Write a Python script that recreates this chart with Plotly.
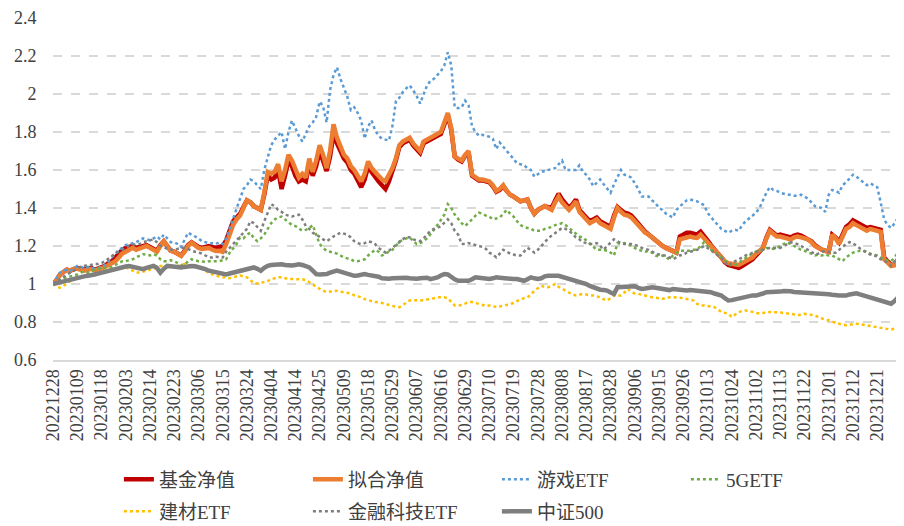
import pandas as pd
import plotly.graph_objects as go

# ---------------- data ----------------
holidays = ["2023-01-02", "2023-01-23", "2023-01-24", "2023-01-25", "2023-01-26", "2023-01-27",
            "2023-04-05", "2023-05-01", "2023-05-02", "2023-05-03", "2023-06-22", "2023-06-23",
            "2023-09-29", "2023-10-02", "2023-10-03", "2023-10-04", "2023-10-05", "2023-10-06"]
days = pd.bdate_range("2022-12-28", "2023-12-29")
dates = [d.strftime("%Y%m%d") for d in days if d.strftime("%Y-%m-%d") not in holidays]

tick_labels = ["20221228", "20230109", "20230118", "20230203", "20230214", "20230223", "20230306",
               "20230315", "20230324", "20230404", "20230414", "20230425", "20230509", "20230518",
               "20230529", "20230607", "20230616", "20230629", "20230710", "20230719", "20230728",
               "20230808", "20230817", "20230828", "20230906", "20230915", "20230926", "20231013",
               "20231024", "20231102", "20231113", "20231122", "20231201", "20231212", "20231221"]

fund_nav = [
    1.00, 1.02, 1.05, 1.06, 1.075, 1.07, 1.08,
    1.085, 1.08, 1.075, 1.08, 1.085, 1.075, 1.08,
    1.085, 1.095, 1.11, 1.12, 1.14, 1.16, 1.18,
    1.19, 1.195, 1.20, 1.19, 1.195, 1.20, 1.205,
    1.195, 1.185, 1.175, 1.205, 1.225, 1.20, 1.175,
    1.17, 1.16, 1.15, 1.175, 1.205, 1.22, 1.205,
    1.195, 1.19, 1.195, 1.20, 1.195, 1.19, 1.195,
    1.20, 1.23, 1.29, 1.33, 1.35, 1.37, 1.405,
    1.44, 1.43, 1.41, 1.40, 1.39, 1.47, 1.57,
    1.55, 1.56, 1.60, 1.50, 1.57, 1.65, 1.62,
    1.57, 1.54, 1.55, 1.54, 1.63, 1.57, 1.62,
    1.70, 1.65, 1.595, 1.67, 1.79, 1.74, 1.70,
    1.66, 1.64, 1.60, 1.58, 1.55, 1.51, 1.55,
    1.62, 1.59, 1.56, 1.54, 1.52, 1.50, 1.54,
    1.59, 1.65, 1.72, 1.74, 1.75, 1.76, 1.73,
    1.71, 1.69, 1.74, 1.75, 1.76, 1.775, 1.78,
    1.79, 1.84, 1.89, 1.81, 1.67, 1.655, 1.645,
    1.675, 1.69, 1.57, 1.555, 1.545, 1.545, 1.54,
    1.535, 1.515, 1.485, 1.495, 1.515, 1.49, 1.47,
    1.46, 1.45, 1.435, 1.44, 1.445, 1.40, 1.37,
    1.39, 1.40, 1.41, 1.405, 1.40, 1.44, 1.475,
    1.445, 1.42, 1.40, 1.42, 1.445, 1.39, 1.37,
    1.35, 1.33, 1.34, 1.35, 1.33, 1.32, 1.31,
    1.30, 1.36, 1.405, 1.39, 1.375, 1.37, 1.36,
    1.34, 1.315, 1.295, 1.275, 1.26, 1.245, 1.23,
    1.21, 1.20, 1.19, 1.18, 1.175, 1.165, 1.25,
    1.26, 1.27, 1.27, 1.265, 1.26, 1.275, 1.255,
    1.23, 1.205, 1.18, 1.16, 1.14, 1.115, 1.10,
    1.095, 1.09, 1.085, 1.095, 1.105, 1.12, 1.13,
    1.15, 1.17, 1.19, 1.245, 1.285, 1.27, 1.255,
    1.26, 1.255, 1.25, 1.245, 1.255, 1.26, 1.255,
    1.245, 1.24, 1.225, 1.205, 1.19, 1.18, 1.175,
    1.17, 1.26, 1.245, 1.22, 1.265, 1.30, 1.315,
    1.335, 1.325, 1.315, 1.305, 1.295, 1.30, 1.295,
    1.29, 1.285, 1.14, 1.115, 1.10, 1.10, 1.13,
]

fit_nav = [
    1.00, 1.02, 1.05, 1.06, 1.075, 1.07, 1.08,
    1.08, 1.075, 1.07, 1.075, 1.08, 1.07, 1.075,
    1.08, 1.09, 1.10, 1.11, 1.12, 1.14, 1.16,
    1.17, 1.18, 1.19, 1.18, 1.185, 1.19, 1.20,
    1.19, 1.18, 1.17, 1.20, 1.225, 1.20, 1.175,
    1.17, 1.16, 1.148, 1.17, 1.20, 1.217, 1.20,
    1.19, 1.185, 1.19, 1.19, 1.18, 1.174, 1.175,
    1.17, 1.21, 1.27, 1.31, 1.34, 1.36, 1.40,
    1.44, 1.43, 1.41, 1.40, 1.39, 1.48, 1.59,
    1.58, 1.59, 1.63, 1.54, 1.60, 1.68, 1.65,
    1.60, 1.56, 1.58, 1.56, 1.66, 1.59, 1.65,
    1.73, 1.68, 1.61, 1.70, 1.84, 1.77, 1.72,
    1.68, 1.66, 1.62, 1.60, 1.57, 1.54, 1.58,
    1.645, 1.61, 1.59, 1.57, 1.55, 1.54, 1.57,
    1.61, 1.66, 1.73, 1.75, 1.76, 1.77, 1.74,
    1.72, 1.70, 1.75, 1.76, 1.77, 1.785, 1.79,
    1.80, 1.85, 1.90, 1.82, 1.67, 1.66, 1.65,
    1.68, 1.70, 1.575, 1.56, 1.55, 1.55, 1.545,
    1.54, 1.52, 1.49, 1.50, 1.52, 1.49, 1.47,
    1.46, 1.45, 1.435, 1.44, 1.445, 1.40, 1.37,
    1.39, 1.40, 1.41, 1.40, 1.39, 1.43, 1.46,
    1.43, 1.41, 1.39, 1.41, 1.435, 1.38, 1.36,
    1.34, 1.32, 1.33, 1.34, 1.32, 1.31, 1.30,
    1.29, 1.35, 1.40, 1.38, 1.365, 1.36, 1.35,
    1.33, 1.31, 1.29, 1.27, 1.26, 1.245, 1.23,
    1.21, 1.20, 1.19, 1.18, 1.175, 1.165, 1.235,
    1.24, 1.25, 1.25, 1.245, 1.243, 1.26, 1.24,
    1.22, 1.20, 1.18, 1.16, 1.14, 1.12, 1.11,
    1.105, 1.10, 1.10, 1.11, 1.12, 1.135, 1.14,
    1.16, 1.175, 1.19, 1.24, 1.28, 1.265, 1.25,
    1.25, 1.245, 1.24, 1.235, 1.245, 1.25, 1.245,
    1.24, 1.235, 1.22, 1.20, 1.19, 1.18, 1.175,
    1.17, 1.26, 1.24, 1.21, 1.25, 1.29, 1.30,
    1.32, 1.31, 1.30, 1.29, 1.28, 1.29, 1.285,
    1.28, 1.275, 1.13, 1.11, 1.095, 1.10, 1.13,
]

game_etf = [
    1.00, 1.03, 1.06, 1.07, 1.075, 1.07, 1.08,
    1.095, 1.09, 1.085, 1.09, 1.085, 1.08, 1.085,
    1.09, 1.10, 1.12, 1.14, 1.16, 1.18, 1.19,
    1.205, 1.21, 1.215, 1.22, 1.23, 1.24, 1.235,
    1.23, 1.24, 1.25, 1.235, 1.26, 1.24, 1.22,
    1.22, 1.21, 1.195, 1.23, 1.27, 1.26, 1.25,
    1.24, 1.225, 1.22, 1.215, 1.215, 1.21, 1.22,
    1.21, 1.24, 1.29, 1.34, 1.40, 1.45, 1.50,
    1.52, 1.55, 1.54, 1.52, 1.50, 1.60, 1.66,
    1.73, 1.76, 1.78, 1.80, 1.71, 1.80, 1.86,
    1.82, 1.78, 1.75, 1.79, 1.83, 1.85, 1.88,
    1.96, 1.935, 1.85, 2.02, 2.10, 2.14, 2.08,
    2.03, 1.985, 1.915, 1.93, 1.90, 1.86, 1.765,
    1.83, 1.86, 1.81, 1.78, 1.765, 1.76, 1.755,
    1.83, 1.96, 1.98, 2.01, 2.03, 2.045, 2.02,
    1.99, 1.95, 2.00, 2.045, 2.07, 2.08, 2.10,
    2.12, 2.15, 2.22, 2.15, 1.93, 1.925, 1.93,
    1.965, 1.94, 1.83, 1.80, 1.78, 1.785, 1.78,
    1.775, 1.765, 1.71, 1.745, 1.72, 1.70, 1.68,
    1.66, 1.635, 1.63, 1.625, 1.61, 1.60, 1.565,
    1.58, 1.59, 1.595, 1.60, 1.605, 1.61, 1.63,
    1.65, 1.60, 1.60, 1.60, 1.60, 1.625, 1.59,
    1.575, 1.55, 1.515, 1.53, 1.55, 1.525, 1.50,
    1.48, 1.525, 1.56, 1.60, 1.575, 1.57, 1.56,
    1.53, 1.50, 1.46, 1.46, 1.46, 1.44, 1.425,
    1.40, 1.39, 1.37, 1.36, 1.35, 1.39, 1.41,
    1.425, 1.44, 1.445, 1.44, 1.435, 1.425, 1.415,
    1.375, 1.35, 1.33, 1.31, 1.29, 1.28, 1.27,
    1.28, 1.285, 1.28, 1.31, 1.33, 1.345, 1.355,
    1.375, 1.40, 1.44, 1.48, 1.51, 1.495, 1.49,
    1.48, 1.475, 1.47, 1.47, 1.465, 1.465, 1.47,
    1.46, 1.45, 1.43, 1.41, 1.405, 1.40, 1.38,
    1.47, 1.495, 1.49, 1.48, 1.52, 1.535, 1.555,
    1.575, 1.565, 1.55, 1.535, 1.52, 1.53, 1.52,
    1.51, 1.43, 1.34, 1.31, 1.295, 1.32, 1.35,
]

g5_etf = [
    1.00, 1.01, 1.02, 1.03, 1.035, 1.04, 1.045,
    1.05, 1.06, 1.065, 1.06, 1.07, 1.075, 1.08,
    1.08, 1.085, 1.087, 1.09, 1.10, 1.11, 1.12,
    1.12, 1.125, 1.13, 1.14, 1.15, 1.157, 1.155,
    1.15, 1.157, 1.15, 1.13, 1.12, 1.12, 1.125,
    1.12, 1.11, 1.10, 1.10, 1.12, 1.13, 1.125,
    1.12, 1.12, 1.115, 1.12, 1.12, 1.12, 1.12,
    1.125, 1.13, 1.165, 1.19, 1.21, 1.245, 1.24,
    1.26, 1.27, 1.24, 1.225, 1.24, 1.26, 1.29,
    1.32, 1.34, 1.35, 1.355, 1.34, 1.32, 1.31,
    1.305, 1.29, 1.28, 1.285, 1.295, 1.31, 1.26,
    1.21, 1.19, 1.175, 1.17, 1.165, 1.16, 1.15,
    1.14, 1.135, 1.13, 1.12, 1.12, 1.125, 1.13,
    1.15, 1.165, 1.18, 1.17, 1.15, 1.16, 1.17,
    1.18, 1.20, 1.225, 1.23, 1.24, 1.245, 1.23,
    1.21, 1.215, 1.225, 1.24, 1.26, 1.285, 1.31,
    1.34, 1.365, 1.42, 1.40, 1.365, 1.34, 1.32,
    1.305, 1.32, 1.34, 1.36, 1.375, 1.37, 1.36,
    1.355, 1.34, 1.345, 1.35, 1.37, 1.39, 1.37,
    1.355, 1.33, 1.31, 1.30, 1.295, 1.29, 1.28,
    1.28, 1.28, 1.29, 1.295, 1.30, 1.31, 1.315,
    1.32, 1.31, 1.295, 1.28, 1.26, 1.25, 1.245,
    1.23, 1.21, 1.195, 1.18, 1.18, 1.18, 1.175,
    1.165, 1.15, 1.215, 1.21, 1.215, 1.21, 1.20,
    1.19, 1.18, 1.175, 1.17, 1.175, 1.165, 1.15,
    1.145, 1.15, 1.14, 1.13, 1.15, 1.165, 1.175,
    1.175, 1.175, 1.175, 1.18, 1.18, 1.20, 1.22,
    1.20, 1.18, 1.17, 1.155, 1.14, 1.12, 1.11,
    1.095, 1.10, 1.11, 1.125, 1.14, 1.15, 1.16,
    1.17, 1.175, 1.18, 1.19, 1.19, 1.185, 1.19,
    1.20, 1.21, 1.22, 1.21, 1.20, 1.19, 1.18,
    1.175, 1.165, 1.16, 1.15, 1.155, 1.15, 1.155,
    1.15, 1.15, 1.14, 1.13, 1.12, 1.14, 1.155,
    1.165, 1.17, 1.175, 1.175, 1.17, 1.16, 1.155,
    1.15, 1.14, 1.13, 1.125, 1.12, 1.14, 1.165,
]

building_etf = [
    1.00, 0.99, 0.98, 0.99, 1.005, 1.015, 1.025,
    1.03, 1.035, 1.04, 1.045, 1.05, 1.05, 1.055,
    1.06, 1.07, 1.075, 1.08, 1.08, 1.085, 1.085,
    1.087, 1.08, 1.07, 1.06, 1.06, 1.065, 1.07,
    1.075, 1.08, 1.085, 1.095, 1.095, 1.09, 1.087,
    1.09, 1.095, 1.10, 1.105, 1.10, 1.095, 1.09,
    1.085, 1.08, 1.07, 1.06, 1.05, 1.045, 1.04,
    1.035, 1.035, 1.03, 1.035, 1.04, 1.045, 1.04,
    1.035, 1.02, 1.005, 1.003, 1.005, 1.01, 1.015,
    1.026, 1.03, 1.035, 1.035, 1.03, 1.026, 1.026,
    1.026, 1.026, 1.025, 1.02, 1.01, 1.00, 0.985,
    0.974, 0.965, 0.957, 0.96, 0.965, 0.965, 0.96,
    0.957, 0.955, 0.95, 0.94, 0.935, 0.93, 0.92,
    0.915, 0.91, 0.905, 0.905, 0.90, 0.895, 0.887,
    0.885, 0.88, 0.878, 0.89, 0.90, 0.913, 0.915,
    0.913, 0.913, 0.915, 0.918, 0.92, 0.925, 0.93,
    0.93, 0.93, 0.925, 0.905, 0.887, 0.887, 0.89,
    0.897, 0.905, 0.905, 0.90, 0.895, 0.887, 0.885,
    0.887, 0.885, 0.878, 0.88, 0.885, 0.89, 0.895,
    0.90, 0.91, 0.92, 0.925, 0.93, 0.945, 0.965,
    0.978, 0.99, 0.985, 0.983, 0.99, 1.00, 0.985,
    0.974, 0.965, 0.955, 0.945, 0.94, 0.945, 0.948,
    0.945, 0.94, 0.94, 0.935, 0.93, 0.92, 0.913,
    0.925, 0.94, 0.94, 0.94, 0.955, 0.974, 0.96,
    0.95, 0.948, 0.945, 0.94, 0.935, 0.93, 0.928,
    0.925, 0.922, 0.925, 0.93, 0.93, 0.93, 0.928,
    0.925, 0.922, 0.918, 0.913, 0.895, 0.887, 0.887,
    0.885, 0.882, 0.878, 0.865, 0.852, 0.848, 0.843,
    0.826, 0.84, 0.852, 0.858, 0.861, 0.858, 0.852,
    0.848, 0.845, 0.848, 0.852, 0.852, 0.852, 0.852,
    0.85, 0.847, 0.843, 0.843, 0.84, 0.835, 0.838,
    0.843, 0.84, 0.838, 0.835, 0.825, 0.817, 0.812,
    0.809, 0.80, 0.795, 0.791, 0.787, 0.783, 0.785,
    0.79, 0.791, 0.788, 0.785, 0.783, 0.78, 0.777,
    0.774, 0.77, 0.765, 0.762, 0.76, 0.765, 0.783,
]

fintech_etf = [
    1.00, 1.01, 1.025, 1.04, 1.05, 1.06, 1.07,
    1.08, 1.09, 1.095, 1.10, 1.10, 1.105, 1.105,
    1.11, 1.12, 1.135, 1.15, 1.16, 1.17, 1.18,
    1.19, 1.20, 1.205, 1.21, 1.21, 1.22, 1.225,
    1.23, 1.235, 1.22, 1.20, 1.195, 1.185, 1.18,
    1.18, 1.185, 1.19, 1.19, 1.185, 1.175, 1.17,
    1.165, 1.16, 1.15, 1.14, 1.14, 1.145, 1.14,
    1.14, 1.17, 1.19, 1.21, 1.225, 1.25, 1.27,
    1.29, 1.33, 1.32, 1.30, 1.28, 1.33, 1.375,
    1.42, 1.41, 1.39, 1.38, 1.365, 1.36, 1.355,
    1.36, 1.365, 1.34, 1.305, 1.29, 1.27, 1.26,
    1.245, 1.235, 1.225, 1.24, 1.25, 1.26, 1.27,
    1.265, 1.26, 1.245, 1.225, 1.215, 1.21, 1.215,
    1.225, 1.22, 1.21, 1.19, 1.175, 1.165, 1.175,
    1.19, 1.205, 1.225, 1.235, 1.25, 1.245, 1.235,
    1.23, 1.225, 1.24, 1.26, 1.28, 1.29, 1.295,
    1.305, 1.32, 1.34, 1.32, 1.28, 1.26, 1.21,
    1.21, 1.215, 1.21, 1.205, 1.20, 1.195, 1.185,
    1.165, 1.155, 1.14, 1.16, 1.18, 1.17, 1.16,
    1.155, 1.15, 1.15, 1.17, 1.19, 1.18, 1.165,
    1.18, 1.20, 1.225, 1.24, 1.255, 1.27, 1.285,
    1.295, 1.29, 1.28, 1.265, 1.245, 1.235, 1.22,
    1.215, 1.21, 1.21, 1.215, 1.20, 1.18, 1.20,
    1.215, 1.235, 1.225, 1.215, 1.21, 1.21, 1.21,
    1.205, 1.20, 1.19, 1.185, 1.18, 1.17, 1.16,
    1.155, 1.15, 1.15, 1.14, 1.13, 1.14, 1.15,
    1.155, 1.165, 1.17, 1.175, 1.18, 1.19, 1.20,
    1.19, 1.175, 1.16, 1.15, 1.14, 1.12, 1.095,
    1.11, 1.12, 1.13, 1.14, 1.15, 1.155, 1.165,
    1.17, 1.175, 1.18, 1.185, 1.19, 1.19, 1.19,
    1.19, 1.20, 1.21, 1.22, 1.215, 1.21, 1.20,
    1.19, 1.18, 1.17, 1.155, 1.16, 1.17, 1.175,
    1.17, 1.165, 1.165, 1.18, 1.20, 1.21, 1.22,
    1.215, 1.20, 1.185, 1.175, 1.165, 1.155, 1.15,
    1.145, 1.13, 1.125, 1.11, 1.095, 1.12, 1.14,
]

csi500 = [
    1.00, 1.005, 1.01, 1.015, 1.017, 1.02, 1.025,
    1.03, 1.035, 1.04, 1.043, 1.045, 1.05, 1.055,
    1.06, 1.065, 1.07, 1.075, 1.08, 1.087, 1.09,
    1.092, 1.095, 1.09, 1.085, 1.08, 1.078, 1.085,
    1.09, 1.095, 1.085, 1.06, 1.08, 1.095, 1.093,
    1.09, 1.088, 1.087, 1.09, 1.093, 1.095, 1.093,
    1.09, 1.085, 1.078, 1.07, 1.065, 1.06, 1.058,
    1.055, 1.05, 1.055, 1.06, 1.065, 1.07, 1.075,
    1.08, 1.085, 1.087, 1.08, 1.07, 1.085, 1.096,
    1.10, 1.102, 1.104, 1.104, 1.10, 1.096, 1.098,
    1.10, 1.104, 1.10, 1.095, 1.087, 1.07, 1.052,
    1.05, 1.052, 1.052, 1.06, 1.065, 1.07, 1.065,
    1.06, 1.055, 1.05, 1.043, 1.045, 1.05, 1.052,
    1.048, 1.045, 1.043, 1.038, 1.03, 1.026, 1.028,
    1.03, 1.031, 1.033, 1.035, 1.033, 1.03, 1.026,
    1.028, 1.03, 1.031, 1.033, 1.026, 1.03, 1.035,
    1.045, 1.052, 1.05, 1.035, 1.025, 1.017, 1.017,
    1.015, 1.017, 1.025, 1.035, 1.033, 1.03, 1.028,
    1.026, 1.03, 1.035, 1.033, 1.03, 1.026, 1.025,
    1.026, 1.026, 1.02, 1.017, 1.025, 1.035, 1.03,
    1.026, 1.03, 1.04, 1.043, 1.045, 1.043, 1.043,
    1.038, 1.032, 1.026, 1.022, 1.017, 1.012, 1.008,
    1.00, 0.99, 0.982, 0.974, 0.97, 0.968, 0.965,
    0.955, 0.948, 0.983, 0.985, 0.983, 0.987, 0.991,
    0.988, 0.98, 0.974, 0.976, 0.98, 0.983, 0.98,
    0.976, 0.974, 0.97, 0.968, 0.974, 0.972, 0.968,
    0.965, 0.966, 0.968, 0.967, 0.965, 0.965, 0.962,
    0.96, 0.957, 0.95, 0.945, 0.939, 0.925, 0.913,
    0.915, 0.92, 0.922, 0.928, 0.933, 0.939, 0.94,
    0.939, 0.942, 0.95, 0.957, 0.957, 0.955, 0.957,
    0.96, 0.963, 0.965, 0.962, 0.958, 0.957, 0.957,
    0.957, 0.956, 0.952, 0.95, 0.948, 0.948, 0.948,
    0.946, 0.943, 0.939, 0.939, 0.94, 0.939, 0.945,
    0.95, 0.951, 0.945, 0.939, 0.935, 0.93, 0.922,
    0.915, 0.908, 0.904, 0.90, 0.896, 0.91, 0.93,
]

y_ticks = [0.6, 0.8, 1.0, 1.2, 1.4, 1.6, 1.8, 2.0, 2.2, 2.4]
y_tick_text = ["0.6", "0.8", "1", "1.2", "1.4", "1.6", "1.8", "2", "2.2", "2.4"]

# ---------------- figure ----------------
FONT = "'Liberation Serif', 'Times New Roman', 'Noto Sans CJK SC', serif"
TXT = "#404040"
GRID = "#D9D9D9"

series = [
    ("基金净值", fund_nav, "#C00000", 4.5, "solid", "legend"),
    ("拟合净值", fit_nav, "#ED7D31", 4.5, "solid", "legend"),
    ("游戏ETF", game_etf, "#5B9BD5", 2.5, "dot", "legend"),
    ("5GETF", g5_etf, "#70AD47", 2.5, "dot", "legend"),
    ("建材ETF", building_etf, "#FFC000", 2.5, "dot", "legend2"),
    ("金融科技ETF", fintech_etf, "#7F7F7F", 2.5, "dot", "legend2"),
    ("中证500", csi500, "#7F7F7F", 4.5, "solid", "legend2"),
]

n = len(dates)
fig = go.Figure()
for name, vals, color, width, dash, leg in series:
    assert len(vals) == n, (name, len(vals), n)
    fig.add_trace(go.Scatter(
        x=dates, y=vals, name=name, mode="lines",
        line=dict(color=color, width=width, dash=dash),
        legend=leg,
    ))

legend_common = dict(
    orientation="h", xanchor="left", yanchor="middle",
    font=dict(family=FONT, size=19, color=TXT),
    entrywidth=144, entrywidthmode="pixels",
    bgcolor="rgba(0,0,0,0)", traceorder="normal",
)

# the page body adds an 8px offset, so the figure is 8px smaller and margins shifted
fig.update_layout(
    template="none",
    width=896, height=518,
    margin=dict(l=45, r=6, t=10, b=166, autoexpand=False),
    paper_bgcolor="white", plot_bgcolor="white",
    font=dict(family=FONT, size=18, color=TXT),
    showlegend=True,
    legend=dict(x=0.078, y=-0.349, **legend_common),
    legend2=dict(x=0.078, y=-0.443, **legend_common),
    xaxis=dict(
        type="category",
        tickmode="array", tickvals=tick_labels, ticktext=tick_labels,
        tickangle=-90, showgrid=False,
        showline=True, linecolor=GRID, linewidth=2,
        ticks="", tickfont=dict(family=FONT, size=18, color=TXT),
        range=[0, n - 1], fixedrange=True, zeroline=False,
    ),
    yaxis=dict(
        range=[0.6, 2.4], tickmode="array", tickvals=y_ticks, ticktext=y_tick_text,
        showgrid=True, gridcolor=GRID, gridwidth=2, griddash="dash",
        zeroline=False, showline=False,
        ticks="outside", ticklen=12, tickcolor="rgba(0,0,0,0)",
        ticklabeloverflow="allow",
        tickfont=dict(family=FONT, size=18, color=TXT),
        fixedrange=True,
    ),
)

fig.write_html("out.html")
